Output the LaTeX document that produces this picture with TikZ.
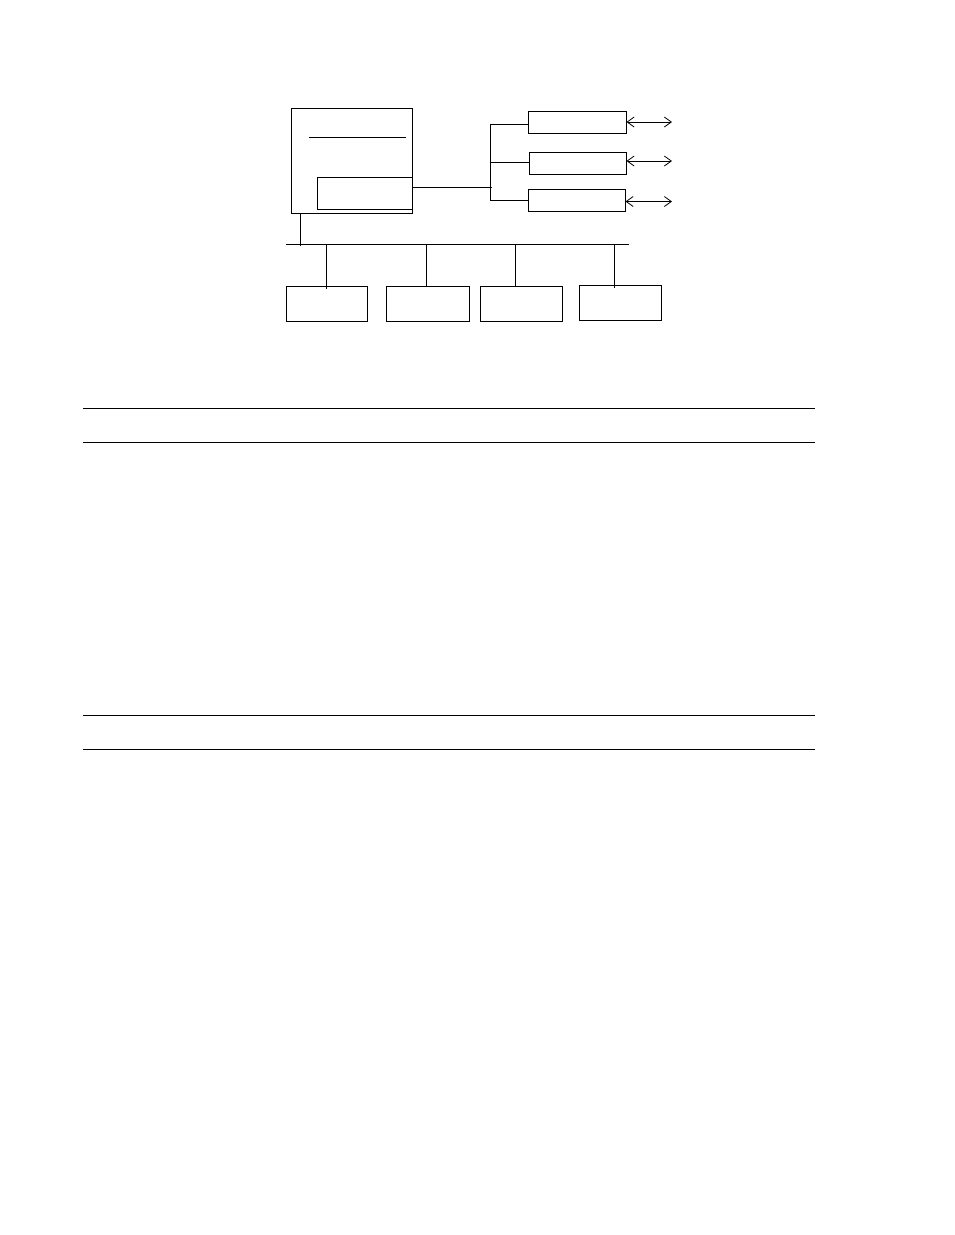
\documentclass[tikz,border=0pt]{standalone}
\usetikzlibrary{arrows.meta,calc}
\begin{document}
\begin{tikzpicture}[x=1pt,y=-1pt,line width=0.9pt,
  box/.style={draw,rectangle,anchor=north west,inner sep=0pt,outer sep=0pt},
  link/.style={draw,line width=0.9pt},
  dbl/.style={draw,line width=0.8pt,{Straight Barb[length=7pt,width=10pt]}-{Straight Barb[length=7pt,width=10pt]}}]
\useasboundingbox[fill=white] (0,0) rectangle (954,1235);
% main unit
\node[box,minimum width=121pt,minimum height=105pt] (main) at (291.5,108.5) {};
\coordinate (ruleL) at (309,137.5);
\coordinate (ruleR) at (405.5,137.5);
\draw (ruleL) -- (ruleR);
\node[box,minimum width=94.5pt,minimum height=31.5pt] (inner) at (317.5,177.5) {};
% right boxes
\node[box,minimum width=98pt,minimum height=21.5pt] (r1) at (528.5,111.5) {};
\node[box,minimum width=97pt,minimum height=22pt] (r2) at (529.5,152.5) {};
\node[box,minimum width=97pt,minimum height=21.5pt] (r3) at (528.5,189.5) {};
% branch junction
\coordinate (jt) at (490.5,124);
\coordinate (jb) at (490.5,201);
\coordinate (jm) at (491.5,187.5);
\draw[link] (jt) -- (jb);
\draw[link] (inner.east |- jm) -- (jm);
\draw[link] (jt) -- (r1.west |- jt);
\draw[link] (490.5,162.5) -- (r2.west |- 0,162.5);
\draw[link] (490.5,200.5) -- (r3.west |- 0,200.5);
% external arrows
\coordinate (e1) at (672,122);
\coordinate (e2) at (672,161);
\coordinate (e3) at (672,201.5);
\draw[dbl] (r1.east |- e1) -- (e1);
\draw[dbl] (r2.east |- e2) -- (e2);
\draw[dbl] (r3.east |- e3) -- (e3);
% bus
\coordinate (busL) at (286,244.5);
\coordinate (busR) at (628.5,244.5);
\draw[link] (busL) -- (busR);
\draw[link] (300.5,213.5) -- (300.5,246);
% bottom boxes
\node[box,minimum width=81pt,minimum height=35.5pt] (b1) at (286.5,286) {};
\node[box,minimum width=82.5pt,minimum height=35.5pt] (b2) at (386.5,286) {};
\node[box,minimum width=81.5pt,minimum height=35.5pt] (b3) at (480.5,286) {};
\node[box,minimum width=81.5pt,minimum height=35.5pt] (b4) at (579.5,285) {};
\draw[link] (326.5,244.5) -- (326.5,288.5);
\draw[link] (426.5,244.5) -- (b2.north -| 426.5,0);
\draw[link] (515.5,244.5) -- (b3.north -| 515.5,0);
\draw[link] (614.5,244.5) -- (614.5,287.5);
% horizontal rules
\draw[line width=1pt] (83,408.5) -- (815,408.5);
\draw[line width=1pt] (83,442.5) -- (815,442.5);
\draw[line width=1pt] (83,715.5) -- (815,715.5);
\draw[line width=1pt] (83,749.5) -- (815,749.5);
\end{tikzpicture}
\end{document}
